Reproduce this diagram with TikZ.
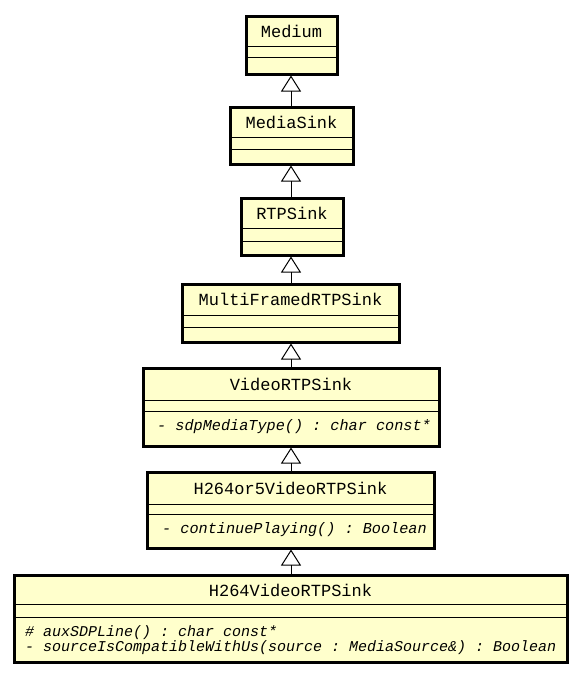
\documentclass[tikz,border=0pt]{standalone}
\usepackage{fontspec}
\setmonofont{Liberation Mono}
\usetikzlibrary{arrows.meta}
\definecolor{classfill}{RGB}{255,255,204}
\tikzset{
  classbox/.style={draw=black, line width=3pt, fill=classfill, inner sep=0pt, rectangle},
  headtxt/.style={inner sep=0pt, font=\ttfamily\fontsize{17}{18}\selectfont},
  optxt/.style={inner sep=0pt, anchor=west, text height=9pt, text depth=2.5pt, font=\ttfamily\itshape\fontsize{15.2}{13}\selectfont},
  sepline/.style={draw=black, line width=1pt},
  inherit/.style={draw=black, line width=1pt, -{Triangle[open, length=16pt, width=20pt, line width=1pt]}}
}
\begin{document}
\begin{tikzpicture}[x=1pt, y=-1pt]
\useasboundingbox (0,0) rectangle (583,678);
% Medium
\node[classbox, minimum width=91pt, minimum height=58pt] (medium) at (291.5,45) {};
\draw[sepline] (246,46) -- (337,46) (246,57) -- (337,57);
\node[headtxt] (mediumT) at (291.5,31) {Medium};
% MediaSink
\node[classbox, minimum width=123pt, minimum height=57pt] (mediasink) at (291.5,135.5) {};
\draw[sepline] (230,137) -- (353,137) (230,149) -- (353,149);
\node[headtxt] (mediasinkT) at (291.5,122) {MediaSink};
% RTPSink
\node[classbox, minimum width=102pt, minimum height=57pt] (rtpsink) at (292,226.5) {};
\draw[sepline] (241,228) -- (343,228) (241,241) -- (343,241);
\node[headtxt] (rtpsinkT) at (292,213) {RTPSink};
% MultiFramedRTPSink
\node[classbox, minimum width=217pt, minimum height=58pt] (multi) at (290.5,313) {};
\draw[sepline] (182,315) -- (399,315) (182,327) -- (399,327);
\node[headtxt] (multiT) at (290.5,299) {MultiFramedRTPSink};
% VideoRTPSink
\node[classbox, minimum width=296pt, minimum height=78pt] (video) at (291,407) {};
\draw[sepline] (143,400) -- (439,400) (143,411) -- (439,411);
\node[headtxt] (videoT) at (291,384) {VideoRTPSink};
\node[optxt] (videoOp) at (157,427) {- sdpMediaType() : char const*};
% H264or5VideoRTPSink
\node[classbox, minimum width=287pt, minimum height=76pt] (h264or5) at (290.5,510) {};
\draw[sepline] (147,504) -- (434,504) (147,514) -- (434,514);
\node[headtxt] (h264or5T) at (290.5,488) {H264or5VideoRTPSink};
\node[optxt] (h264or5Op) at (162,530) {- continuePlaying() : Boolean};
% H264VideoRTPSink
\node[classbox, minimum width=553pt, minimum height=87pt] (h264) at (290.5,618.5) {};
\draw[sepline] (14,604) -- (567,604) (14,617) -- (567,617);
\node[headtxt] (h264T) at (290.5,590) {H264VideoRTPSink};
\node[optxt, align=left, text height=, text depth=, font=\ttfamily\itshape\fontsize{15}{13}\selectfont] (h264Ops) at (25,640.5)
  {\# auxSDPLine() : char const*\\- sourceIsCompatibleWithUs(source : MediaSource\&) : Boolean};
% inheritance
\draw[inherit] (mediasink.north -| 291,0) -- (medium.south -| 291,0);
\draw[inherit] (rtpsink.north -| 291,0) -- (mediasink.south -| 291,0);
\draw[inherit] (multi.north -| 291,0) -- (rtpsink.south -| 291,0);
\draw[inherit] (video.north -| 291,0) -- (multi.south -| 291,0);
\draw[inherit] (h264or5.north -| 291,0) -- (video.south -| 291,0);
\draw[inherit] (h264.north -| 291,0) -- (h264or5.south -| 291,0);
\end{tikzpicture}
\end{document}
